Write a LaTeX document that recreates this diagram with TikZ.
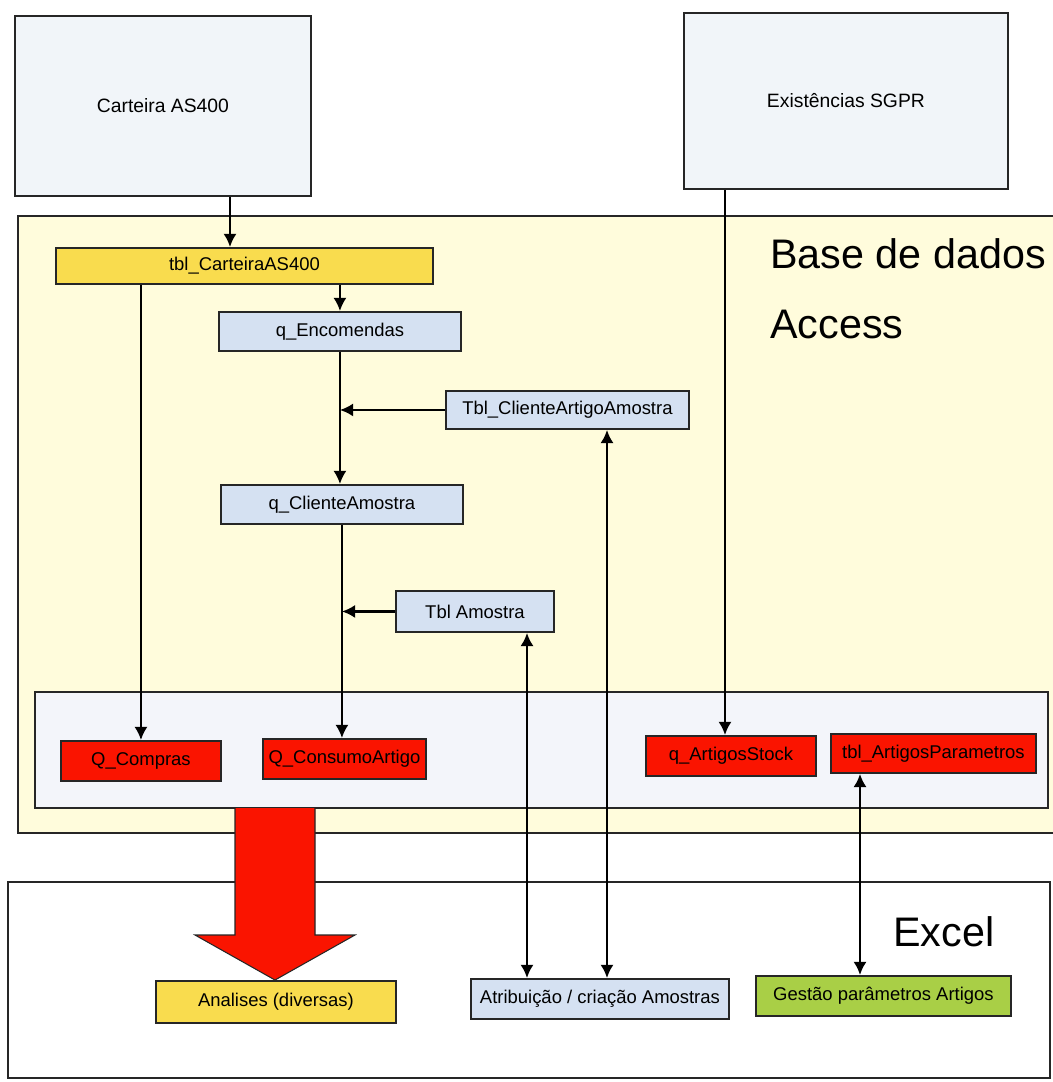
\documentclass[tikz,border=0pt]{standalone}
\usepackage{fontspec}
\setmainfont{Liberation Sans}
\usetikzlibrary{arrows.meta}
\definecolor{srcfill}{HTML}{F1F5F9}
\definecolor{dbfill}{HTML}{FFFCDC}
\definecolor{panelfill}{HTML}{F3F5FA}
\definecolor{tblblue}{HTML}{D5E1F2}
\definecolor{tblred}{HTML}{FA1400}
\definecolor{tblgold}{HTML}{F9DC4E}
\definecolor{tblgreen}{HTML}{A9CF46}
\tikzset{flow/.style={line width=1.3pt,-{Latex[length=7.5pt,width=7.5pt]}}}
\tikzset{dflow/.style={line width=1.3pt,{Latex[length=7.5pt,width=7.5pt]}-{Latex[length=7.5pt,width=7.5pt]}}}
\tikzset{box/.style={draw=black!85,line width=1.1pt,anchor=north west,inner sep=0pt,font=\fontsize{10.5}{12}\selectfont}}
\tikzset{area/.style={draw=black!85,line width=1.1pt}}
\tikzset{bigtext/.style={anchor=base west,inner sep=0pt,font=\fontsize{23.5}{28}\selectfont}}

\begin{document}
\begin{tikzpicture}[x=0.02cm,y=-0.02cm]
        \useasboundingbox (0,0) rectangle (1053,1082);
        \clip (0,0) rectangle (1053,1082);
        % sources
        \node[box,fill=srcfill,minimum width=5.92cm,minimum height=3.6cm] (carteira) at (14,15) {\fontsize{11}{13}\selectfont Carteira AS400};
        \node[box,fill=srcfill,minimum width=6.48cm,minimum height=3.52cm] (exist) at (683,12) {\fontsize{11}{13}\selectfont Existências SGPR};
        % Access
        \draw[area,fill=dbfill] (18,216) rectangle (1075,833);
        \node[bigtext] (lbldb) at (770,268) {Base de dados};
        \node[bigtext] (lblacc) at (770,338) {Access};
        \node[box,fill=tblgold,minimum width=7.54cm,minimum height=0.72cm] (tblCart) at (55,247) {tbl\_CarteiraAS400};
        \node[box,fill=tblblue,minimum width=4.84cm,minimum height=0.78cm] (qEnc) at (218,311) {q\_Encomendas};
        \node[box,fill=tblblue,minimum width=4.86cm,minimum height=0.76cm] (tblCAA) at (445,390) {Tbl\_ClienteArtigoAmostra};
        \node[box,fill=tblblue,minimum width=4.84cm,minimum height=0.78cm] (qCliA) at (220,484) {q\_ClienteAmostra};
        \node[box,fill=tblblue,minimum width=3.16cm,minimum height=0.82cm] (tblAm) at (395,590) {Tbl Amostra};
        \draw[area,fill=panelfill] (35,692) rectangle (1048,808);
        \node[box,fill=tblred,minimum width=3.2cm,minimum height=0.8cm] (QComp) at (60,740) {Q\_Compras};
        \node[box,fill=tblred,minimum width=3.26cm,minimum height=0.8cm] (QCons) at (262,738) {Q\_ConsumoArtigo};
        \node[box,fill=tblred,minimum width=3.4cm,minimum height=0.8cm] (qArtS) at (645,735) {q\_ArtigosStock};
        \node[box,fill=tblred,minimum width=4.1cm,minimum height=0.78cm] (tblArtP) at (830,733) {tbl\_ArtigosParametros};
        % Excel
        \draw[area,fill=white] (8,882) rectangle (1050,1078);
        \node[bigtext] (lblxl) at (893,946) {Excel};
        \node[box,fill=tblgold,minimum width=4.8cm,minimum height=0.84cm] (analises) at (155,980) {Analises (diversas)};
        \node[box,fill=tblblue,minimum width=5.16cm,minimum height=0.8cm] (atrib) at (470,978) {Atribuição / criação Amostras};
        \node[box,fill=tblgreen,minimum width=5.1cm,minimum height=0.8cm] (gestao) at (755,975) {Gestão parâmetros Artigos};
        % big arrow
        \fill[tblred] (235,808) -- (315,808) -- (315,935) -- (355,935) -- (275,980)
            -- (195,935) -- (235,935) -- cycle;
        \draw[black!85,line width=0.6pt] (235,808) -- (235,935) -- (195,935) -- (275,980)
            -- (355,935) -- (315,935) -- (315,808);
        % connectors
        \coordinate (xs) at (230,0);
        \coordinate (xa) at (527,0);
        \coordinate (xb) at (607,0);
        \coordinate (xc) at (725,0);
        \coordinate (xd) at (860,0);
        \draw[flow] (xs |- carteira.south) -- (xs |- tblCart.north);
        \draw[flow] (QComp.north |- tblCart.south) -- (QComp.north);
        \draw[flow] (qEnc.north |- tblCart.south) -- (qEnc.north);
        \draw[flow] (qEnc.south) -- (qEnc.south |- qCliA.north);
        \draw[flow] (tblCAA.west) -- (qEnc.south |- tblCAA.west);
        \draw[flow] (qCliA.south) -- (qCliA.south |- QCons.north);
        \draw[flow] (tblAm.west) -- (qCliA.south |- tblAm.west);
        \draw[dflow] (xa |- tblAm.south) -- (xa |- atrib.north);
        \draw[dflow] (xb |- tblCAA.south) -- (xb |- atrib.north);
        \draw[flow] (xc |- exist.south) -- (xc |- qArtS.north);
        \draw[dflow] (xd |- tblArtP.south) -- (xd |- gestao.north);
    \end{tikzpicture}
\end{document}
